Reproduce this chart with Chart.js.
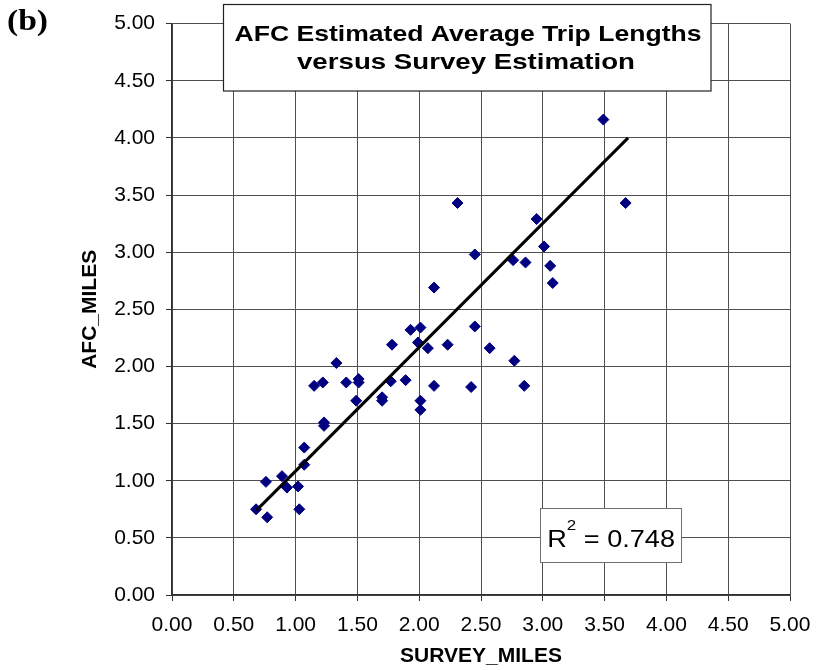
<!DOCTYPE html>
<html>
<head>
<meta charset="utf-8">
<script src="https://cdn.jsdelivr.net/npm/chart.js@4.4.1/dist/chart.umd.min.js"></script>
<style>
  html, body { margin: 0; padding: 0; background: #fff; }
  #wrap { width: 825px; height: 670px; }
</style>
</head>
<body>
<div id="wrap"><canvas id="c" width="825" height="670"></canvas></div>
<script>
// ---- data ----
const surveyMiles = [0.68, 0.77, 0.76, 0.89, 0.93, 1.02, 1.03, 1.07, 1.07, 1.23, 1.23, 1.15, 1.22, 1.33, 1.41, 1.51, 1.51, 1.49, 1.70, 1.70, 1.77, 1.89, 1.78, 1.99, 2.07, 2.23, 2.57, 2.01, 2.01, 2.12, 2.42, 2.31, 3.67, 2.95, 3.01, 2.45, 2.76, 2.86, 3.06, 3.08, 2.12, 1.93, 2.01, 2.45, 2.77, 2.85, 3.49];
const afcMiles    = [0.75, 0.68, 0.99, 1.04, 0.94, 0.95, 0.75, 1.14, 1.29, 1.51, 1.48, 1.83, 1.86, 2.03, 1.86, 1.89, 1.86, 1.70, 1.73, 1.70, 1.87, 1.88, 2.19, 2.21, 2.16, 2.19, 2.16, 1.70, 1.62, 1.83, 1.82, 3.43, 3.43, 3.29, 3.05, 2.98, 2.93, 2.91, 2.88, 2.73, 2.69, 2.32, 2.34, 2.35, 2.05, 1.83, 4.16];
const trendX = [0.685, 3.69];
const trendY = [0.743, 4.00];
const axisTicks = [0, 0.5, 1, 1.5, 2, 2.5, 3, 3.5, 4, 4.5, 5];
const tickLabels = ['0.00','0.50','1.00','1.50','2.00','2.50','3.00','3.50','4.00','4.50','5.00'];
const rSquared = '0.748';
const titleLines = ['AFC Estimated Average Trip Lengths', 'versus Survey Estimation'];
const panelLabel = '(b)';
const xTitle = 'SURVEY_MILES';
const yTitle = 'AFC_MILES';

const points = surveyMiles.map((x, i) => ({ x: x, y: afcMiles[i] }));
const trend = trendX.map((x, i) => ({ x: x, y: trendY[i] }));

function drawStretched(ctx, text, x, y, font, targetW, align) {
  ctx.save();
  ctx.font = font;
  const w = ctx.measureText(text).width;
  const sx = targetW ? targetW / w : 1;
  ctx.translate(x, y);
  ctx.scale(sx, 1);
  ctx.textAlign = align || 'center';
  ctx.fillText(text, 0, 0);
  ctx.restore();
  return w * sx;
}

const overlay = {
  id: 'overlay',
  afterDraw(chart) {
    const ctx = chart.ctx;
    ctx.save();
    ctx.fillStyle = '#000';
    ctx.textBaseline = 'alphabetic';
    // panel label
    drawStretched(ctx, panelLabel, 7, 30, 'bold 29px "Liberation Serif", "Times New Roman", serif', 41, 'left');

    // title box
    ctx.fillStyle = '#fff';
    ctx.fillRect(223.5, 4.5, 487.5, 86.5);
    ctx.strokeStyle = '#222';
    ctx.lineWidth = 1.2;
    ctx.strokeRect(223.5, 4.5, 487.5, 86.5);
    ctx.fillStyle = '#000';
    const tf = 'bold 22.5px "Liberation Sans", Arial, sans-serif';
    drawStretched(ctx, titleLines[0], 468, 40.5, tf, 467, 'center');
    drawStretched(ctx, titleLines[1], 466, 69, tf, 338, 'center');

    // R^2 box
    const rightText = 675;
    const baseF = '24px "Liberation Sans", Arial, sans-serif';
    const supF = '15px "Liberation Sans", Arial, sans-serif';
    const sx = 1.13;
    ctx.font = baseF;
    const wR = ctx.measureText('R').width * sx;
    const wRest = ctx.measureText(' = ' + rSquared).width * sx;
    ctx.font = supF;
    const wSup = ctx.measureText('2').width * sx;
    const total = wR + wSup + wRest;
    const left = rightText - total;
    const bx = Math.round(left - 7) + 0.5;
    ctx.fillStyle = '#fff';
    ctx.fillRect(bx, 508.5, 681.5 - bx, 54);
    ctx.strokeStyle = '#707070';
    ctx.lineWidth = 1;
    ctx.strokeRect(bx, 508.5, 681.5 - bx, 54);
    ctx.fillStyle = '#000';
    ctx.save(); ctx.font = baseF; ctx.translate(left, 546.5); ctx.scale(sx, 1); ctx.textAlign='left'; ctx.fillText('R', 0, 0); ctx.restore();
    ctx.save(); ctx.font = supF; ctx.translate(left + wR, 530); ctx.scale(sx, 1); ctx.textAlign='left'; ctx.fillText('2', 0, 0); ctx.restore();
    ctx.save(); ctx.font = baseF; ctx.translate(left + wR + wSup, 546.5); ctx.scale(sx, 1); ctx.textAlign='left'; ctx.fillText(' = ' + rSquared, 0, 0); ctx.restore();
    ctx.restore();
  }
};

const tickFont = { family: '"Liberation Sans", Arial, sans-serif', size: 21 };
const titleFont = { family: '"Liberation Sans", Arial, sans-serif', size: 21, weight: 'bold' };
const gridColor = '#505050';

new Chart(document.getElementById('c'), {
  type: 'scatter',
  data: {
    datasets: [
      {
        type: 'line',
        data: trend,
        borderColor: '#000',
        borderWidth: 3,
        pointRadius: 0,
        fill: false,
        tension: 0
      },
      {
        type: 'scatter',
        data: points,
        pointStyle: 'rectRot',
        pointRadius: 5.5,
        pointBackgroundColor: '#000080',
        pointBorderColor: '#000080',
        pointBorderWidth: 1
      }
    ]
  },
  options: {
    responsive: false,
    animation: false,
    devicePixelRatio: 1,
    layout: { padding: { left: 0, right: 35, top: 23, bottom: 0 } },
    plugins: { legend: { display: false }, tooltip: { enabled: false }, title: { display: false } },
    scales: {
      x: {
        type: 'linear', position: 'bottom', min: 0, max: 5,
        afterBuildTicks: s => { s.ticks = axisTicks.map(v => ({ value: v })); },
        afterFit: s => { s.height = 75; },
        ticks: {
          callback: (v) => tickLabels[axisTicks.indexOf(v)],
          font: tickFont, color: '#000', padding: 12, maxRotation: 0, autoSkip: false
        },
        grid: { color: gridColor, lineWidth: 1, tickLength: 6, tickColor: '#303030', drawTicks: true },
        border: { display: true, color: '#303030', width: 1.5 },
        title: { display: true, text: xTitle, font: titleFont, color: '#000', padding: { top: 0, bottom: 1.4 } }
      },
      y: {
        type: 'linear', position: 'left', min: 0, max: 5,
        afterBuildTicks: s => { s.ticks = axisTicks.map(v => ({ value: v })); },
        afterFit: s => { s.width = 172; },
        ticks: {
          callback: (v) => tickLabels[axisTicks.indexOf(v)],
          font: tickFont, color: '#000', padding: 11, autoSkip: false
        },
        grid: { color: gridColor, lineWidth: 1, tickLength: 6, tickColor: '#303030', drawTicks: true },
        border: { display: true, color: '#303030', width: 1.5 },
        title: { display: true, text: yTitle, font: titleFont, color: '#000', padding: { top: 77.4, bottom: 0 } }
      }
    }
  },
  plugins: [overlay]
});
</script>
</body>
</html>
